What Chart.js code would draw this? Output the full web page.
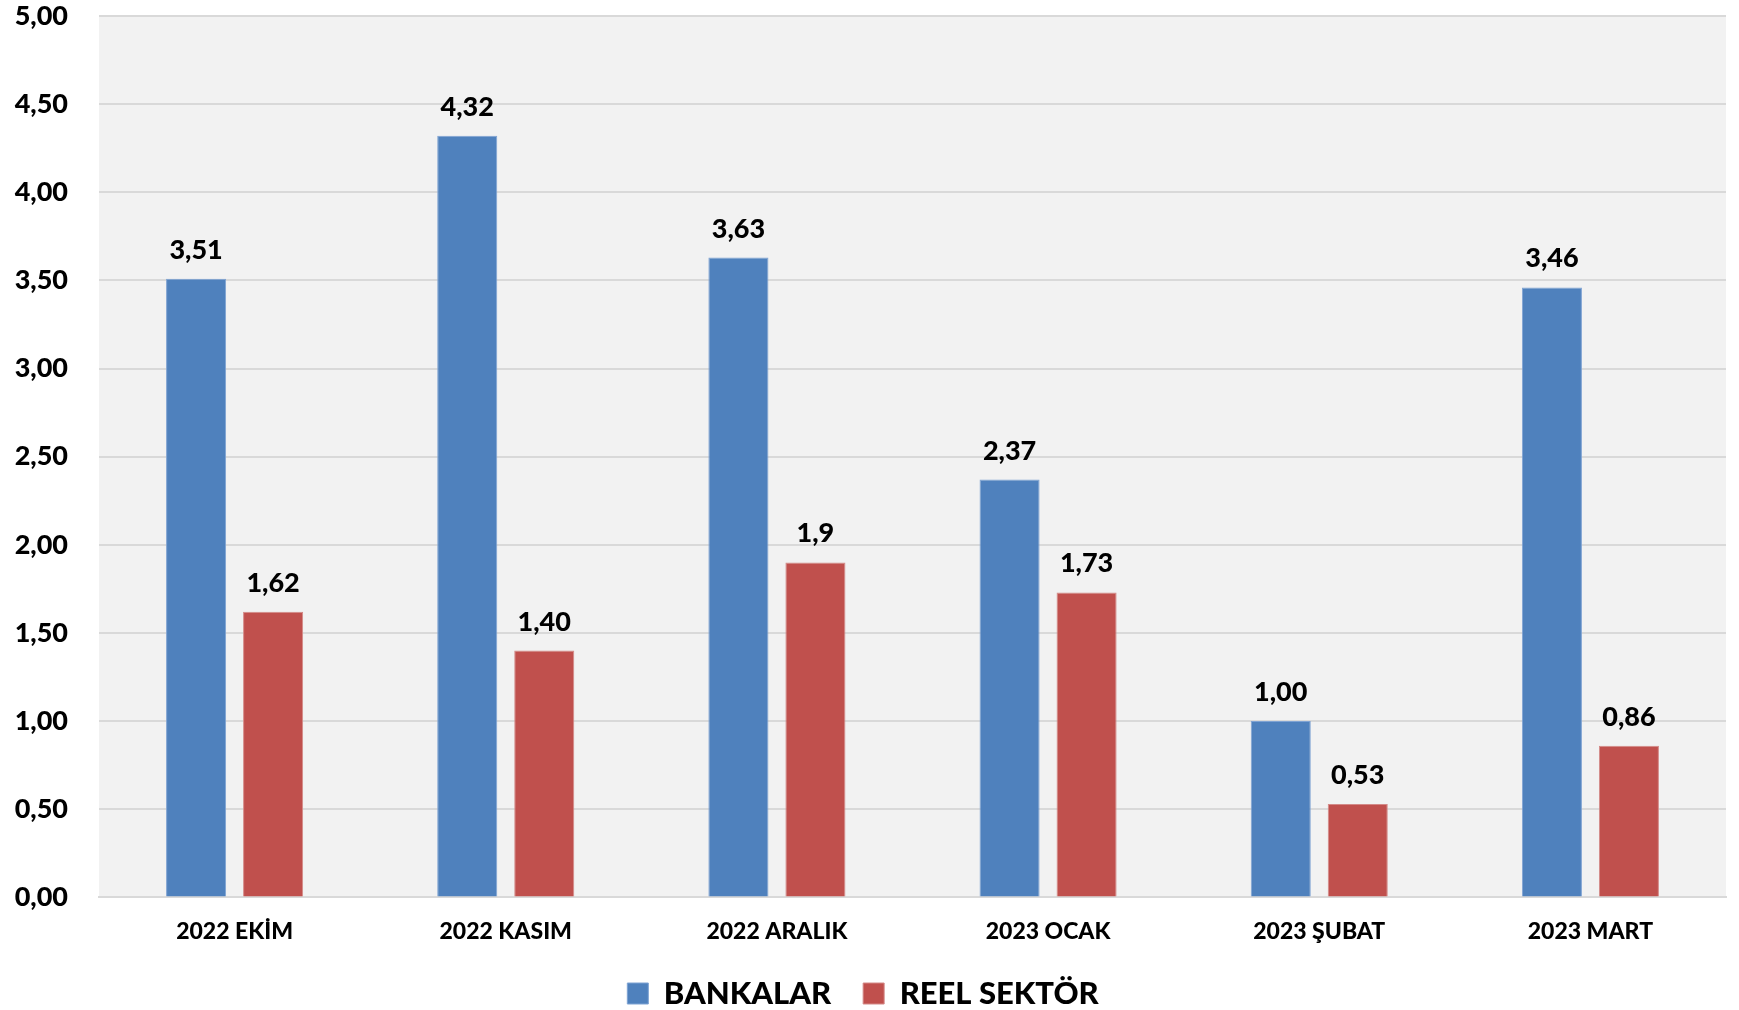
<!DOCTYPE html>
<html>
<head>
<meta charset="utf-8">
<script src="https://cdn.jsdelivr.net/npm/chart.js@4/dist/chart.umd.min.js"></script>
<style>
  html, body { margin: 0; padding: 0; background: #fff; }
  #wrap { width: 1739px; height: 1010px; }
</style>
</head>
<body>
<div id="wrap"><canvas id="rateChart"></canvas></div>
<script>
// data
const months = ['2022 EKİM', '2022 KASIM', '2022 ARALIK', '2023 OCAK', '2023 ŞUBAT', '2023 MART'];
const bankValues = [3.51, 4.32, 3.63, 2.37, 1.00, 3.46];
const realValues = [1.62, 1.40, 1.90, 1.73, 0.53, 0.86];
const bankLabels = ['3,51', '4,32', '3,63', '2,37', '1,00', '3,46'];
const realLabels = ['1,62', '1,40', '1,9', '1,73', '0,53', '0,86'];
const yTicks = [0, 0.5, 1, 1.5, 2, 2.5, 3, 3.5, 4, 4.5, 5];

const FONT = 'Lato, "Open Sans", sans-serif';

// grey plot area
const plotBg = {
  id: 'plotBg',
  beforeDraw(chart) {
    const { ctx, chartArea } = chart;
    ctx.save();
    ctx.fillStyle = '#f2f2f2';
    ctx.fillRect(chartArea.left, chartArea.top, chartArea.right - chartArea.left, chartArea.bottom - chartArea.top);
    ctx.restore();
  }
};

// value labels above bars
const valueLabels = {
  id: 'valueLabels',
  afterDatasetsDraw(chart) {
    const ctx = chart.ctx;
    ctx.save();
    ctx.font = '900 27px ' + FONT;
    ctx.fillStyle = '#000';
    ctx.textAlign = 'center';
    ctx.textBaseline = 'alphabetic';
    chart.data.datasets.forEach((ds, i) => {
      chart.getDatasetMeta(i).data.forEach((bar, j) => {
        ctx.fillText(ds.valueText[j], bar.x, bar.y - 20);
      });
    });
    ctx.restore();
  }
};

new Chart(document.getElementById('rateChart'), {
  type: 'bar',
  data: {
    labels: months,
    datasets: [
      {
        label: 'BANKALAR',
        data: bankValues,
        valueText: bankLabels,
        backgroundColor: '#4f81bd',
        borderColor: '#7fa3d3',
        borderWidth: 1,
        categoryPercentage: 0.568,
        barPercentage: 0.78
      },
      {
        label: 'REEL SEKTÖR',
        data: realValues,
        valueText: realLabels,
        backgroundColor: '#c0504d',
        borderColor: '#d48a88',
        borderWidth: 1,
        categoryPercentage: 0.568,
        barPercentage: 0.78
      }
    ]
  },
  options: {
    responsive: true,
    maintainAspectRatio: false,
    animation: false,
    layout: {
      padding: { top: 16, right: 13, left: 0, bottom: -9 }
    },
    plugins: {
      legend: {
        position: 'bottom',
        labels: {
          boxWidth: 21,
          boxHeight: 21,
          padding: 32,
          color: '#000',
          font: { family: FONT, size: 31, weight: '900', lineHeight: 0.6 }
        }
      },
      tooltip: { enabled: false }
    },
    scales: {
      x: {
        grid: { display: false },
        border: { display: true, color: '#d9d9d9', width: 2 },
        ticks: {
          color: '#000',
          padding: 12,
          font: { family: FONT, size: 23, weight: '900' }
        },
        afterFit(scale) {
          scale.height -= 11;
        }
      },
      y: {
        min: 0,
        max: 5,
        afterBuildTicks(scale) {
          scale.ticks = yTicks.map(v => ({ value: v }));
        },
        afterFit(scale) {
          scale.width = 99;
          scale.paddingTop = 0;
          scale.paddingBottom = 0;
        },
        grid: { color: '#d9d9d9', lineWidth: 2, drawTicks: false },
        border: { display: false },
        ticks: {
          color: '#000',
          padding: 31,
          font: { family: FONT, size: 27, weight: '900' },
          callback: (v) => Number(v).toFixed(2).replace('.', ',')
        }
      }
    }
  },
  plugins: [plotBg, valueLabels]
});
</script>
</body>
</html>
